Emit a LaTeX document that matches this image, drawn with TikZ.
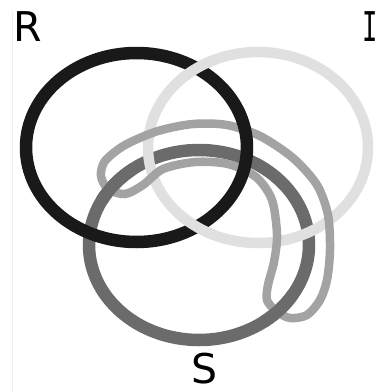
\documentclass[tikz,border=0pt]{standalone}
\usepackage{fontspec}
\setmainfont{DejaVu Sans}
\newfontfamily\barfont{DejaVu Sans Mono}

\begin{document}
\begin{tikzpicture}[x=1pt, y=-1pt,
    rring/.style={draw=black!90, line width=12.5},
    iring/.style={draw=black!12, line width=10.5},
    sring/.style={draw=black!58, line width=12.5},
    tie/.style={draw=black!36, line width=8.5},
    lab/.style={inner sep=0pt, font=\fontsize{41}{41}\selectfont}]

\useasboundingbox (0,0) rectangle (380,391);

% Page edge
\draw[black!7, line width=1] (12,12) -- (12,391);

% Centres
\coordinate (Rc) at (136.5,147.5);
\coordinate (Ic) at (258,147.5);
\coordinate (Sc) at (199,245);

% S ring
\draw[sring] (Sc) ellipse [x radius=110, y radius=95];

% I ring, over S
\draw[iring] (Ic) ellipse [x radius=110, y radius=95.5];

% Fourth loop, wrapped round S and over I
\draw[tie] plot[smooth cycle] coordinates {
  (101,176) (105,161) (125,145) (158,131) (193,124) (227,125)
  (260,136) (293,158) (317,185) (328,215) (330,250) (327,280)
  (320,300) (307,315) (290,318) (276,311) (267,300) (268,285)
  (274,262) (277,235) (272,200) (256,177) (228,164) (195,162)
  (163,169) (143,185) (125,194) (108,189)};

% S passes over the two ends of the loop
\begin{scope}
  \clip (112,180) circle (24);
  \draw[sring] (Sc) ellipse [x radius=110, y radius=95];
\end{scope}
\begin{scope}
  \clip (280,310) circle (22);
  \draw[sring] (Sc) ellipse [x radius=110, y radius=95];
\end{scope}

% R ring, over S and the loop
\draw[rring] (Rc) ellipse [x radius=110.5, y radius=94.5];

% I passes over R
\begin{scope}
  \clip (197,67) circle (20);
  \draw[iring] (Ic) ellipse [x radius=110, y radius=95.5];
\end{scope}
\begin{scope}
  \clip (197,227) circle (20);
  \draw[iring] (Ic) ellipse [x radius=110, y radius=95.5];
\end{scope}

% Labels
\node[lab] (r) at (27.5,27) {R};
\node[lab, font=\barfont\fontsize{41}{41}\selectfont] (i) at (370,27) {\scalebox{0.62}[1]{I}};
\node[lab] (s) at (204.5,369) {S};

\end{tikzpicture}
\end{document}
